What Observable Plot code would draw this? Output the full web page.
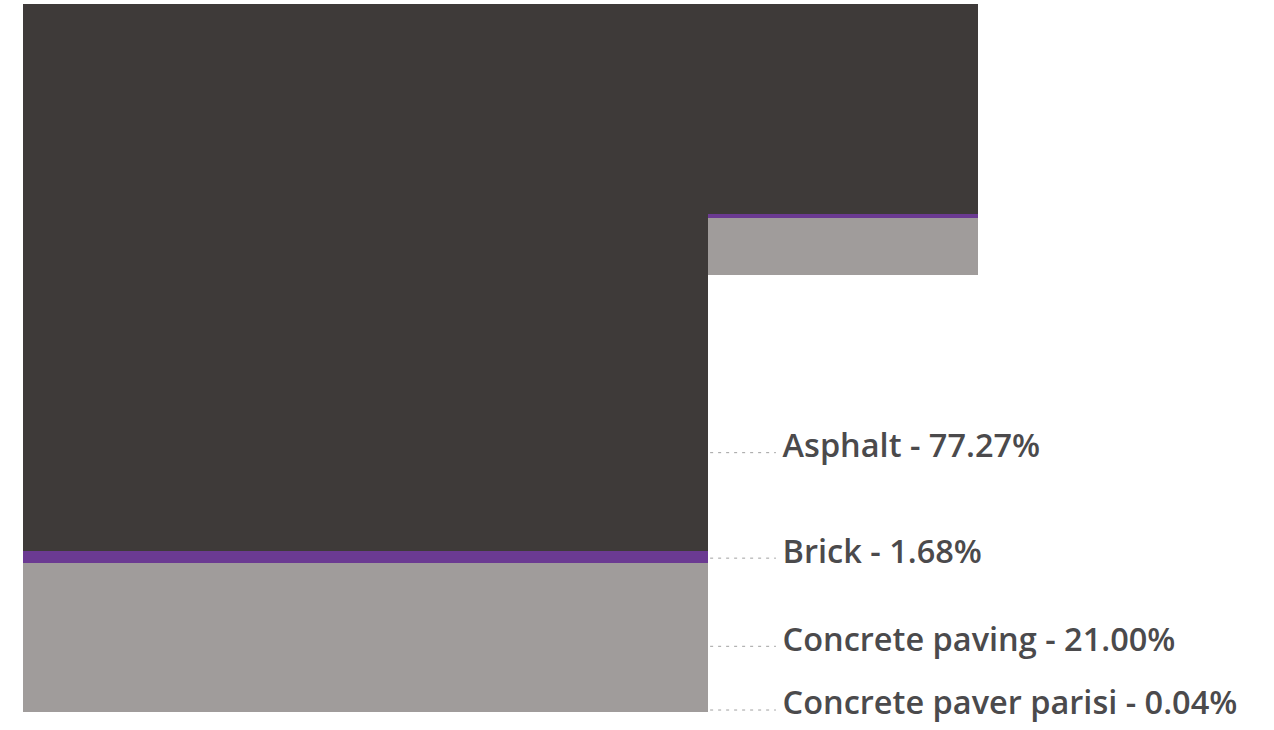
<!DOCTYPE html>
<html>
<head>
<meta charset="utf-8">
<script src="https://cdn.jsdelivr.net/npm/d3@7"></script>
<script src="https://cdn.jsdelivr.net/npm/@observablehq/plot@0.6"></script>
<style>
  html, body { margin: 0; padding: 0; background: #fff; }
  #chart svg { display: block; }
</style>
</head>
<body>
<div id="chart"></div>
<script>
// ---- data ----
const materials = ["Asphalt", "Brick", "Concrete paving", "Concrete paver parisi"];
const shares = [77.27, 1.68, 21.00, 0.04];          // percent
const colors = ["#3e3a39", "#6b3a92", "#a09c9b", "#a09c9b"];
const columns = ["Main", "Detail"];
const columnWidths = [100, 39.4];                    // relative widths
const columnHeights = [100, 38.3];                   // relative heights (hung from top)
// label anchor heights on the main column (percent of total)
const labelAnchors = [36.7, 21.8, 9.35, 0.35];

// ---- build rect table ----
const rects = [];
let xStart = 0;
columns.forEach((col, c) => {
  const h = columnHeights[c];
  const base = 100 - h;
  let acc = 0;
  for (let i = materials.length - 1; i >= 0; i--) {
    const seg = shares[i] / 100 * h;
    rects.push({
      column: col, material: materials[i],
      x1: xStart, x2: xStart + columnWidths[c],
      y1: base + acc, y2: base + acc + seg,
      color: colors[i]
    });
    acc += seg;
  }
  xStart += columnWidths[c];
});

const mainRight = columnWidths[0];
const labels = materials.map((m, i) => ({
  text: `${m} - ${shares[i].toFixed(2)}%`,
  y: labelAnchors[i]
}));

const chart = Plot.plot({
  width: 1274,
  height: 730,
  marginTop: 4,
  marginBottom: 18,
  marginLeft: 23,
  marginRight: 296,
  x: { domain: [0, columnWidths[0] + columnWidths[1]], axis: null },
  y: { domain: [0, 100], axis: null },
  marks: [
    Plot.rect(rects, {
      x1: "x1", x2: "x2", y1: "y1", y2: "y2",
      fill: "color", shapeRendering: "crispEdges"
    }),
    Plot.ruleY(labels, {
      y: "y", x1: mainRight + 0.3, x2: mainRight + 9.9,
      stroke: "#a0a0a0", strokeWidth: 1, strokeDasharray: "3,5"
    }),
    Plot.text(labels, {
      x: mainRight + 10.8, y: "y", text: "text",
      textAnchor: "start", fill: "#4b4a4c",
      fontFamily: "'Open Sans', Roboto, sans-serif",
      fontWeight: 600, fontSize: 32.5, dy: -6
    })
  ]
});
document.getElementById("chart").appendChild(chart);
</script>
</body>
</html>
